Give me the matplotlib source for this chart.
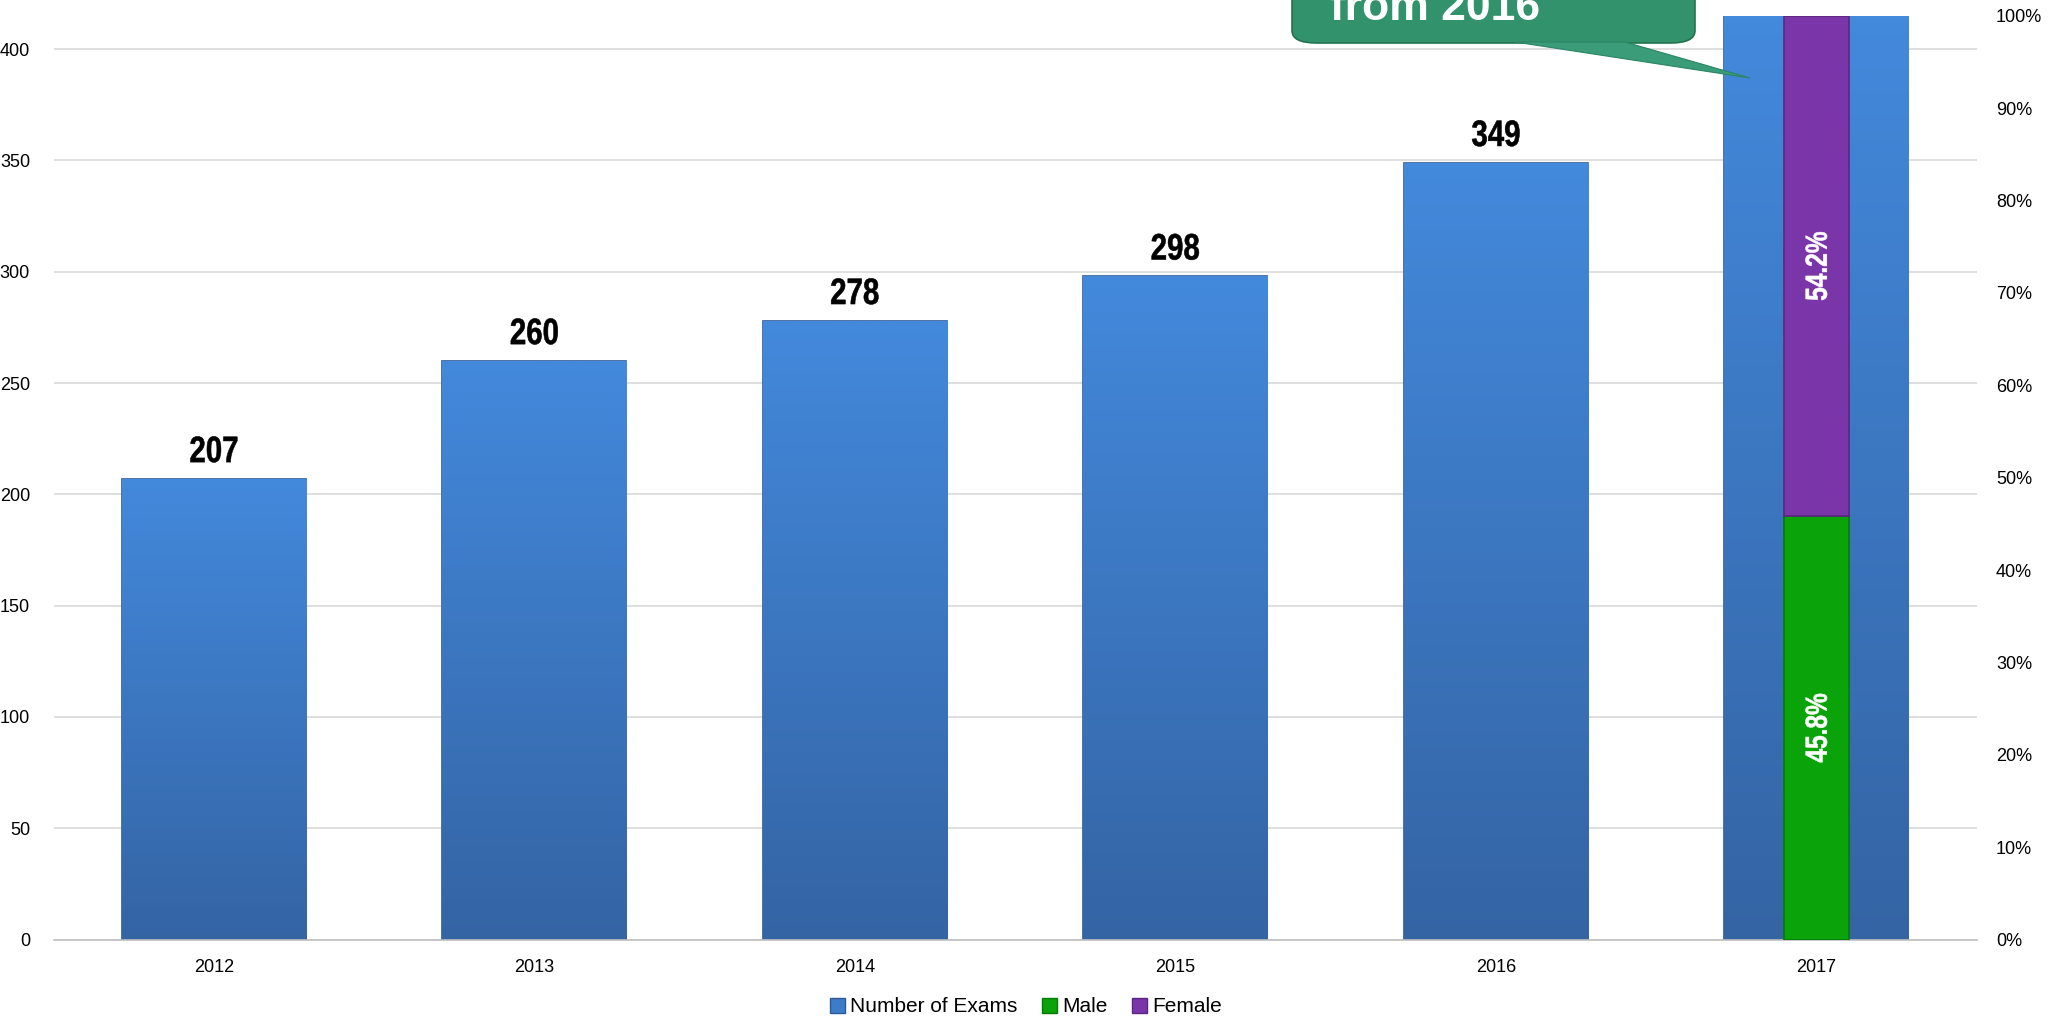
import matplotlib

matplotlib.use("Agg")

import matplotlib.pyplot as plt
import numpy as np
from matplotlib.colors import LinearSegmentedColormap
from matplotlib.font_manager import FontProperties
from matplotlib.patches import FancyBboxPatch, Patch, PathPatch, Polygon
from matplotlib.textpath import TextPath
from matplotlib.transforms import Affine2D, ScaledTranslation


years = ["2012", "2013", "2014", "2015", "2016", "2017"]
exams = [207, 260, 278, 298, 349, 415]
exam_labels = ["207", "260", "278", "298", "349", ""]
male_share = [0.458]
female_share = [0.542]
left_ticks = [0, 50, 100, 150, 200, 250, 300, 350, 400]
right_ticks = [0.0, 0.1, 0.2, 0.3, 0.4, 0.5, 0.6, 0.7, 0.8, 0.9, 1.0]

W, H = 2049, 1029
DPI = 100
BLUE_TOP = "#4389dc"
BLUE_BOTTOM = "#3464a4"
GREEN = "#0aa30a"
PURPLE = "#7a35a8"

plt.rcParams["font.family"] = ["Liberation Sans", "DejaVu Sans"]
BOLD = FontProperties(family="Liberation Sans", weight="bold")


def gradient_fill(ax, bars, top, bottom):
    cmap = LinearSegmentedColormap.from_list("grad", [bottom, top])
    grad = np.linspace(0, 1, 256).reshape(-1, 1)
    for bar in bars:
        x0, y0 = bar.get_x(), bar.get_y()
        x1, y1 = x0 + bar.get_width(), y0 + bar.get_height()
        im = ax.imshow(grad, cmap=cmap, extent=(x0, x1, y0, y1), origin="lower",
                       aspect="auto", zorder=bar.get_zorder() + 0.1)
        im.set_clip_path(bar)


def narrow_text(ax, x, y, s, size, color="black", squeeze=0.8, rotation=0, center=False, offset=0):
    # condensed bold text (like Arial Narrow), drawn as a squeezed text path
    path = TextPath((0, 0), s, size=size, prop=BOLD)
    ext = path.get_extents()
    dy = -(ext.y0 + ext.y1) / 2 if center else 0
    tr = (Affine2D().translate(-(ext.x0 + ext.x1) / 2, dy).scale(squeeze, 1).rotate_deg(rotation)
          .translate(0, offset).scale(DPI / 72) + ScaledTranslation(x, y, ax.transData))
    patch = PathPatch(path, transform=tr, facecolor=color, edgecolor=color, linewidth=0.4,
                      clip_on=False, zorder=6)
    ax.add_artist(patch)


fig = plt.figure(figsize=(W / DPI, H / DPI), dpi=DPI)
ax = fig.add_axes([53.6 / W, 1 - 939.6 / H, (1976.5 - 53.6) / W, (939.6 - 15.7) / H])

x = np.arange(len(years))
bars = ax.bar(x, exams, width=0.575, color=BLUE_TOP, edgecolor="#2d5a94", linewidth=1.2, zorder=2)
gradient_fill(ax, bars, BLUE_TOP, BLUE_BOTTOM)
ax.set_xlim(-0.5, len(years) - 0.5)
ax.set_ylim(0, 415)
ax.set_yticks(left_ticks)
ax.set_xticks(x, years)
ax.grid(axis="y", color="#d9d9d9", linewidth=1.2, zorder=0)
ax.set_axisbelow(True)
for side in ["top", "right", "left"]:
    ax.spines[side].set_visible(False)
ax.spines["bottom"].set_color("#bfbfbf")
ax.spines["bottom"].set_linewidth(1.2)
ax.tick_params(axis="both", length=0, labelsize=13)
ax.tick_params(axis="y", pad=17)
ax.tick_params(axis="x", pad=14)

for bar, label in zip(bars, exam_labels):
    if label:
        narrow_text(ax, bar.get_x() + bar.get_width() / 2, bar.get_height(), label,
                    size=26.5, squeeze=0.8, offset=12)

ax2 = ax.twinx()
ax2.set_ylim(0, 1)
ax2.set_yticks(right_ticks, [f"{int(round(t * 100))}%" for t in right_ticks])
ax2.tick_params(axis="y", length=0, labelsize=13, pad=14)
for side in ["top", "right", "left", "bottom"]:
    ax2.spines[side].set_visible(False)

x17 = [len(years) - 1]
male_bars = ax2.bar(x17, male_share, width=0.204, color=GREEN, edgecolor="#067a06", linewidth=1.2, zorder=3)
female_bars = ax2.bar(x17, female_share, bottom=male_share, width=0.204, color=PURPLE,
                      edgecolor="#5c2680", linewidth=1.2, zorder=3)
for bar, share in zip(list(male_bars) + list(female_bars), male_share + female_share):
    narrow_text(ax2, bar.get_x() + bar.get_width() / 2, bar.get_y() + bar.get_height() / 2,
                f"{share * 100:.1f}%", size=22, color="white", squeeze=0.8, rotation=90, center=True)

# callout box, cropped at the top of the picture as in the source
box = FancyBboxPatch((1292 / W, 1 - 43 / H), (1695 - 1292) / W, 120 / H,
                     boxstyle="round,pad=0,rounding_size=0.012", transform=fig.transFigure,
                     facecolor="#31926c", edgecolor="#22744f", linewidth=1.2, zorder=5)
fig.patches.append(box)
wedge = Polygon([(1515 / W, 1 - 42 / H), (1625 / W, 1 - 42 / H), (1750 / W, 1 - 78 / H)],
                closed=True, transform=fig.transFigure, facecolor="#3a9c78",
                edgecolor="#2c8565", linewidth=0.8, zorder=5)
fig.patches.append(wedge)
fig.text(1330 / W, 1 - 20 / H, "from 2016", color="white", fontsize=32, fontweight="bold",
         va="baseline", ha="left", zorder=6)

handles = [
    Patch(facecolor="#3d7cc9", edgecolor="#2d5a94", label="Number of Exams"),
    Patch(facecolor=GREEN, edgecolor="#067a06", label="Male"),
    Patch(facecolor=PURPLE, edgecolor="#5c2680", label="Female"),
]
fig.legend(handles=handles, loc="center", bbox_to_anchor=(1026 / W, 1 - 1007 / H), ncol=3,
           frameon=False, fontsize=15, handlelength=0.7, handleheight=0.7,
           handletextpad=0.25, columnspacing=1.2)

fig.savefig("out.png", dpi=DPI)
plt.close(fig)
